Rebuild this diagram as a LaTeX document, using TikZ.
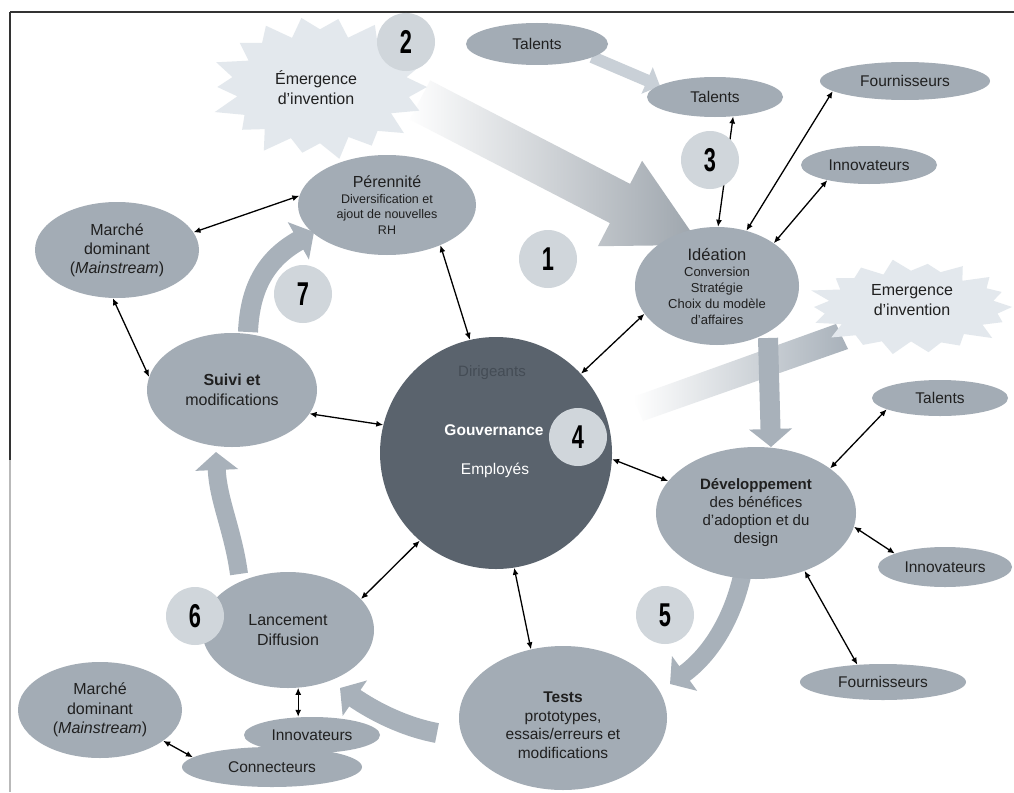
\documentclass[tikz,border=0pt]{standalone}
\usepackage{fontspec}
\setmainfont{Liberation Sans}
\usepackage{graphicx}
\usetikzlibrary{shapes.geometric,arrows.meta}
\definecolor{ellfill}{HTML}{A3ACB5}
\definecolor{ctrfill}{HTML}{5A636D}
\definecolor{numfill}{HTML}{D0D6DB}
\definecolor{burstfill}{HTML}{E3E8ED}
\definecolor{blockfill}{HTML}{A8B1BA}
\definecolor{lightarrow}{HTML}{C9D0D7}
\definecolor{txt}{HTML}{202020}
\definecolor{dirtxt}{HTML}{444C55}
\definecolor{framec}{HTML}{333333}
\pgfdeclarelayer{back}\pgfdeclarelayer{front}
\pgfsetlayers{back,main,front}
\newcommand\numtxt[1]{\scalebox{0.66}[1]{#1}}
\tikzset{
 ell/.style={ellipse, fill=ellfill, inner sep=0pt, align=center, text=txt, font=\fontsize{15.5}{17}\selectfont},
 numc/.style={circle, fill=numfill, minimum size=58pt, inner sep=0pt, text=black, font=\fontsize{33}{33}\selectfont\bfseries},
 link/.style={{Latex[length=7pt,width=6pt]}-{Latex[length=7pt,width=6pt]}, line width=1.3pt, black},
 block/.style={line width=20pt, color=blockfill, -{Triangle[length=18pt,width=42pt]}},
 bursttext/.style={align=center, text=txt, font=\fontsize{16}{20}\selectfont}
}
\begin{document}
\begin{tikzpicture}[x=1pt,y=-1pt]
\useasboundingbox (0,0) rectangle (1014,792);

% ---------- nodes ----------
\node[ell, minimum width=178pt, minimum height=100pt, font=\fontsize{12.5}{15.5}\selectfont] (perennite) at (387,205)
  {{\fontsize{16}{16}\selectfont Pérennité}\\Diversification et\\ajout de nouvelles\\RH};
\node[ell, minimum width=164pt, minimum height=96pt, font=\fontsize{16}{19}\selectfont] (marcheT) at (117,250)
  {Marché\\dominant\\(\textit{Mainstream})};
\node[ell, minimum width=170pt, minimum height=114pt, font=\fontsize{16}{20}\selectfont] (suivi) at (232,390)
  {\textbf{Suivi et}\\modifications};
\node[circle, fill=ctrfill, minimum size=232pt, inner sep=0pt] (gouv) at (496,453) {};
\node[text=dirtxt, font=\fontsize{15}{15}\selectfont] (dirT) at (492,373) {Dirigeants};
\node[text=white, font=\fontsize{15.5}{15.5}\selectfont\bfseries] (gouvT) at (494,430) {Gouvernance};
\node[text=white, font=\fontsize{15.5}{15.5}\selectfont] (empT) at (495,470) {Employés};
\node[ell, minimum width=164pt, minimum height=118pt, font=\fontsize{13}{16}\selectfont] (ideation) at (717,286)
  {{\fontsize{16.5}{16}\selectfont Idéation}\\Conversion\\Stratégie\\Choix du modèle\\d'affaires};
\node[ell, minimum width=200pt, minimum height=132pt, font=\fontsize{15}{18}\selectfont] (dev) at (756,513)
  {\textbf{Développement}\\des bénéfices\\d'adoption et du\\design};
\node[ell, minimum width=208pt, minimum height=144pt] (tests) at (563,718) {};
\node[align=center, text=txt, font=\fontsize{15.5}{18.5}\selectfont] (testsT) at (563,725)
  {\textbf{Tests}\\prototypes,\\essais/erreurs et\\modifications};
\node[ell, minimum width=172pt, minimum height=116pt, font=\fontsize{16}{20}\selectfont] (lanc) at (288,630)
  {Lancement\\Diffusion};
\node[ell, minimum width=164pt, minimum height=96pt, font=\fontsize{16}{19.5}\selectfont] (marcheB) at (100,710)
  {Marché\\dominant\\(\textit{Mainstream})};
\node[ell, minimum width=180pt, minimum height=40pt] (connect) at (272,767) {Connecteurs};
\node[ell, minimum width=136pt, minimum height=36pt] (innovB) at (312,735) {Innovateurs};
\node[ell, minimum width=142pt, minimum height=42pt] (talentsT) at (537,44) {Talents};
\node[ell, minimum width=136pt, minimum height=40pt] (talents2) at (715,97) {Talents};
\node[ell, minimum width=170pt, minimum height=38pt] (fournT) at (905,81) {Fournisseurs};
\node[ell, minimum width=136pt, minimum height=38pt] (innovT) at (869,165) {Innovateurs};
\node[ell, minimum width=136pt, minimum height=36pt] (talentsR) at (940,398) {Talents};
\node[ell, minimum width=134pt, minimum height=40pt] (innovR) at (945,567) {Innovateurs};
\node[ell, minimum width=166pt, minimum height=36pt] (fournB) at (883,682) {Fournisseurs};

% ---------- background: frame, bursts, block arrows ----------
\begin{pgfonlayer}{back}
\fill[white] (0,0) rectangle (1014,792);
\draw[line width=1.3pt, framec] (10,12) -- (1014,12);
\draw[line width=1.3pt, framec] (10,12) -- (10,460);
\draw[line width=1.1pt, gray!55] (10,460) -- (10,792);
% big shaded arrow from top burst to Ideation
\shade[left color=white!95!burstfill, right color=blockfill!90!black!95]
  (430.1,80.4) -- (630.1,183.9) -- (642.1,160.8) -- (700,244.9) -- (597.9,246.2) -- (609.9,223.1) -- (409.9,119.6) -- cycle;
% top burst
\fill[burstfill] plot[variable=\k, samples at={0,...,35}]
  ({320+(107-21*mod(\k,2))*(1+0.05*sin(\k*97))*cos(\k*10)}, {87+(70-15*mod(\k,2))*(1+0.05*sin(\k*97))*sin(\k*10)}) -- cycle;
% shaded arrow toward right burst
\shade[left color=white, right color=blockfill] (633,397) -- (836,324) -- (848,349) -- (643,421) -- cycle;
% right burst
\fill[burstfill] plot[variable=\k, samples at={0,...,35}]
  ({911+(101-17*mod(\k,2))*(1+0.05*sin(\k*113))*cos(\k*10)}, {307+(46-10*mod(\k,2))*(1+0.05*sin(\k*113))*sin(\k*10)}) -- cycle;
% block arrows of the cycle
\coordinate (a7s) at (248,332); \coordinate (a7e) at (314,232);
\coordinate (a6s) at (239,574); \coordinate (a6e) at (216,452);
\coordinate (a5s) at (742,576); \coordinate (a5e) at (670,684);
\coordinate (ads) at (768,338); \coordinate (ade) at (771,447);
\coordinate (abs) at (437,733); \coordinate (abe) at (340,688);
\coordinate (ats) at (592,57);  \coordinate (ate) at (660,86);
\draw[block] (a7s) .. controls (250,285) and (268,258) .. (a7e);
\draw[block, line width=18pt] (a6s) .. controls (233,530) and (218,500) .. (a6e);
\draw[block, line width=18pt] (a5s) .. controls (732,620) and (710,655) .. (a5e);
\draw[block] (ads) -- (ade);
\draw[block] (abs) .. controls (405,727) and (375,712) .. (abe);
\draw[line width=12pt, color=lightarrow, -{Triangle[length=14pt,width=28pt]}] (ats) -- (ate);
\end{pgfonlayer}

% burst texts
\node[bursttext] (burstT) at (316,88) {Émergence\\d'invention};
\node[bursttext] (burstR) at (912,300) {Emergence\\d'invention};

% ---------- connectors ----------
\draw[link] (marcheT.13) -- (perennite.174);
\draw[link] (perennite.-37) -- (gouv.103);
\draw[link] (marcheT.-95) -- (suivi.171);
\draw[link] (suivi.-17) -- (gouv.166);
\draw[link] (lanc.23) -- (gouv.229);
\draw[link] (lanc.-80) -- (lanc.-80 |- innovB.north);
\draw[link] (marcheB.-26) -- (connect.173);
\draw[link] (gouv.-81) -- (tests.115);
\draw[link] (gouv.-3) -- (dev.160);
\draw[link] (gouv.43) -- (ideation.201);
\draw[link] (ideation.89) -- (talents2.-47);
\draw[link] (ideation.62) -- (fournT.188);
\draw[link] (ideation.37) -- (innovT.200);
\draw[link] (dev.31) -- (talentsR.192);
\draw[link] (dev.-8) -- (innovR.165);
\draw[link] (dev.-50) -- (fournB.146);

% ---------- numbers ----------
\begin{pgfonlayer}{front}
\node[numc] (n1) at (548,259) {\numtxt{1}};
\node[numc] (n2) at (406,42) {\numtxt{2}};
\node[numc] (n3) at (710,160) {\numtxt{3}};
\node[numc] (n4) at (578,437) {\numtxt{4}};
\node[numc] (n5) at (665,615) {\numtxt{5}};
\node[numc] (n6) at (195,616) {\numtxt{6}};
\node[numc] (n7) at (303,294) {\numtxt{7}};
\end{pgfonlayer}
\end{tikzpicture}
\end{document}
